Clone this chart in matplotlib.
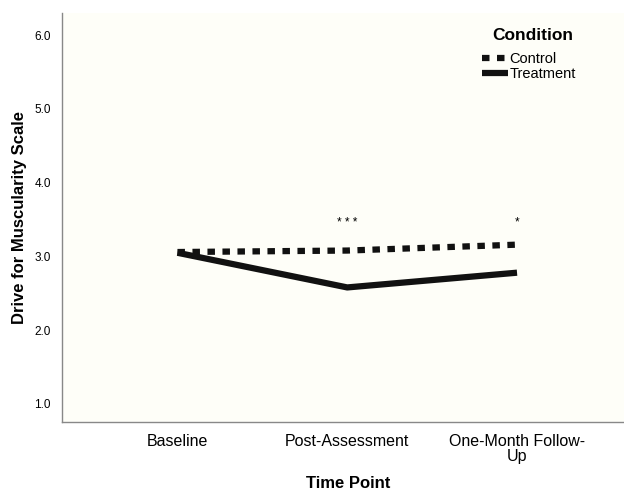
import matplotlib.pyplot as plt

plt.rcParams['font.family'] = ['Liberation Sans', 'DejaVu Sans']

time_points = ["Baseline", "Post-Assessment", "One-Month Follow-\nUp"]
control = [3.06, 3.08, 3.16]
treatment = [3.05, 2.58, 2.78]
stars = ["", "* * *", "*"]
y_ticks = [1.0, 2.0, 3.0, 4.0, 5.0, 6.0]


def main():
    fig = plt.figure(figsize=(6.24, 4.93), dpi=100)
    ax = fig.add_axes([62 / 624, 71 / 493, 562 / 624, 409 / 493])
    ax.set_facecolor("#fefef8")

    x = list(range(len(time_points)))
    ax.plot(x, control, color="#111111", lw=4.5, linestyle=(0, (1.2, 1.2)),
            label="Control", solid_capstyle="butt")
    ax.plot(x, treatment, color="#111111", lw=4.5, label="Treatment",
            solid_capstyle="butt")

    for xi, s in zip(x, stars):
        if s:
            ax.text(xi, 3.46, s, ha="center", va="center", fontsize=8.5)

    ax.set_xlim(-0.68, 2.63)
    ax.set_ylim(0.756, 6.3)
    ax.set_xticks(x)
    ax.set_xticklabels(time_points, fontsize=11.5, linespacing=0.95)
    ax.set_yticks(y_ticks)
    ax.set_yticklabels([f"{v:.1f}" for v in y_ticks], fontsize=8.5)
    ax.tick_params(axis="x", length=0, pad=9)
    ax.tick_params(axis="y", length=0, pad=8)

    for side in ["top", "right"]:
        ax.spines[side].set_visible(False)
    for side in ["left", "bottom"]:
        ax.spines[side].set_color("#888888")
        ax.spines[side].set_linewidth(1.0)

    fig.text(348 / 624, 1 - 484 / 493, "Time Point", ha="center", va="center",
             fontsize=12, fontweight="bold")
    fig.text(20 / 624, 1 - 217 / 493, "Drive for Muscularity Scale",
             ha="center", va="center", rotation=90, fontsize=12,
             fontweight="bold")

    fig.text(533 / 624, 1 - 36 / 493, "Condition", ha="center", va="center",
             fontsize=12.5, fontweight="bold")
    ax.legend(loc="upper left", bbox_to_anchor=(482 / 624, 1 - 52 / 493),
              bbox_transform=fig.transFigure, frameon=False,
              fontsize=10.5, handlelength=1.8, handletextpad=0.1,
              labelspacing=0.05, borderaxespad=0, borderpad=0)

    plt.savefig("out.png", dpi=100)
    plt.close()


if __name__ == "__main__":
    main()
